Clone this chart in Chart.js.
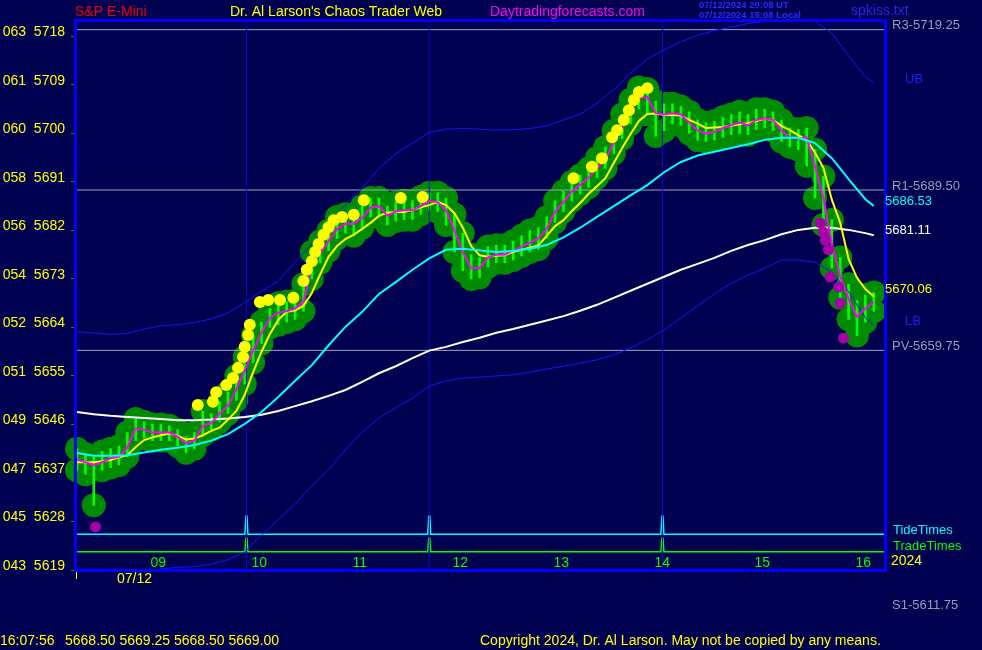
<!DOCTYPE html>
<html lang="en">
<head>
<meta charset="UTF-8">
<title>S&amp;P E-Mini</title>
<style>
    html, body { margin: 0; padding: 0; background: #000050; }
    canvas { display: block; }
</style>
</head>
<body>
<canvas id="chart" width="982" height="650"></canvas>

<script src="https://cdn.jsdelivr.net/npm/chart.js"></script>
<script>
    // 5 minute bars, 07/12 session
    const barTimes = [
        '08:18', '08:23', '08:28', '08:33', '08:38', '08:43', '08:48', '08:53', '08:58', '09:03',
        '09:08', '09:13', '09:18', '09:23', '09:28', '09:33', '09:38', '09:43', '09:48', '09:53',
        '09:58', '10:03', '10:08', '10:13', '10:18', '10:23', '10:28', '10:33', '10:38', '10:43',
        '10:48', '10:53', '10:58', '11:03', '11:08', '11:13', '11:18', '11:23', '11:28', '11:33',
        '11:38', '11:43', '11:48', '11:53', '11:58', '12:03', '12:08', '12:13', '12:18', '12:23',
        '12:28', '12:33', '12:38', '12:43', '12:48', '12:53', '12:58', '13:03', '13:08', '13:13',
        '13:18', '13:23', '13:28', '13:33', '13:38', '13:43', '13:48', '13:53', '13:58', '14:03',
        '14:08', '14:13', '14:18', '14:23', '14:28', '14:33', '14:38', '14:43', '14:48', '14:53',
        '14:58', '15:03', '15:08', '15:13', '15:18', '15:23', '15:28', '15:33', '15:38', '15:43',
        '15:48', '15:53', '15:58', '16:03', '16:08', '16:13'
    ];
    const highs = [
        5641.5, 5640.5, 5640.0, 5641.0, 5641.5, 5642.0, 5644.5, 5647.0, 5646.5, 5646.0,
        5646.0, 5645.75, 5645.0, 5643.75, 5644.5, 5648.5, 5648.0, 5650.25, 5652.0, 5655.0,
        5658.5, 5662.5, 5665.0, 5667.5, 5668.5, 5668.75, 5669.0, 5672.0, 5678.0, 5680.0,
        5682.0, 5684.5, 5685.0, 5685.0, 5686.5, 5688.0, 5688.0, 5686.5, 5687.25, 5687.5,
        5687.5, 5688.25, 5689.0, 5689.0, 5688.0, 5685.0, 5681.5, 5677.5, 5677.0, 5679.0,
        5679.25, 5679.25, 5680.0, 5681.0, 5682.0, 5682.5, 5684.5, 5687.5, 5689.25, 5691.0,
        5692.25, 5693.5, 5695.5, 5697.5, 5700.5, 5703.5, 5706.25, 5708.5, 5708.25, 5706.0,
        5705.5, 5705.5, 5705.0, 5704.0, 5702.5, 5702.0, 5702.25, 5703.0, 5703.5, 5704.0,
        5703.5, 5704.5, 5704.5, 5704.0, 5702.5, 5701.0, 5700.75, 5701.0, 5697.0, 5692.0,
        5684.0, 5677.0, 5672.0, 5669.0, 5670.0, 5670.5
    ];
    const lows = [
        5637.5, 5636.75, 5631.0, 5637.5, 5638.0, 5638.5, 5640.0, 5643.0, 5643.5, 5643.0,
        5643.0, 5643.0, 5642.0, 5640.75, 5641.5, 5644.0, 5645.0, 5646.5, 5648.0, 5650.5,
        5653.5, 5657.5, 5661.0, 5664.0, 5664.5, 5665.0, 5665.5, 5667.0, 5673.0, 5676.0,
        5678.25, 5680.5, 5681.5, 5681.0, 5682.5, 5684.5, 5684.5, 5683.0, 5683.75, 5684.0,
        5684.0, 5685.0, 5685.75, 5685.5, 5683.0, 5678.0, 5674.5, 5673.0, 5673.25, 5675.25,
        5676.0, 5676.0, 5676.5, 5677.25, 5678.0, 5678.5, 5680.5, 5683.5, 5685.5, 5687.5,
        5688.75, 5690.0, 5691.75, 5693.5, 5696.25, 5699.0, 5701.75, 5704.5, 5703.5, 5699.5,
        5700.5, 5701.75, 5701.5, 5700.0, 5698.75, 5698.5, 5698.75, 5699.25, 5699.75, 5700.0,
        5699.75, 5700.75, 5701.0, 5700.5, 5698.5, 5697.5, 5697.0, 5694.0, 5688.0, 5683.0,
        5675.0, 5669.5, 5665.5, 5662.5, 5665.0, 5667.0
    ];
    // fast average (magenta)
    const fastLine = [
        5639.5, 5639.0, 5638.5, 5639.0, 5639.75, 5640.0, 5641.75, 5645.25, 5645.0, 5644.5,
        5644.5, 5644.5, 5643.75, 5642.5, 5643.0, 5645.75, 5646.25, 5648.0, 5649.5, 5652.5,
        5656.0, 5659.75, 5663.0, 5665.75, 5666.75, 5667.0, 5667.5, 5668.75, 5675.5, 5677.75,
        5680.0, 5682.25, 5683.25, 5683.25, 5684.25, 5686.25, 5686.5, 5684.75, 5685.5, 5685.75,
        5685.75, 5686.5, 5687.5, 5687.25, 5685.75, 5682.0, 5678.0, 5675.0, 5675.0, 5677.0,
        5677.5, 5677.5, 5678.25, 5679.0, 5679.75, 5680.5, 5682.25, 5685.5, 5687.25, 5689.25,
        5690.5, 5691.75, 5693.5, 5695.25, 5698.25, 5701.0, 5703.75, 5706.5, 5706.75, 5703.75,
        5703.5, 5703.75, 5703.5, 5702.0, 5700.5, 5700.0, 5700.25, 5701.0, 5701.5, 5702.0,
        5701.5, 5702.5, 5702.75, 5702.5, 5700.5, 5699.25, 5699.0, 5699.25, 5693.75, 5688.0,
        5679.5, 5673.5, 5669.25, 5666.0, 5667.5, 5668.75
    ];
    // slower average (yellow)
    const midLine = [
        5639.0, 5639.0, 5639.0, 5639.2, 5639.4, 5639.9, 5640.3, 5641.8, 5643.1, 5643.6,
        5644.0, 5644.3, 5643.9, 5643.2, 5643.4, 5644.0, 5644.8, 5645.4, 5646.9, 5648.5,
        5651.5, 5655.7, 5659.5, 5662.8, 5665.4, 5666.9, 5667.2, 5668.0, 5670.4, 5673.9,
        5677.1, 5679.1, 5680.4, 5681.2, 5682.3, 5683.4, 5684.7, 5685.3, 5685.4, 5685.4,
        5685.8, 5686.3, 5686.7, 5687.3, 5686.7, 5685.2, 5682.5, 5679.1, 5677.4, 5677.1,
        5677.3, 5677.4, 5678.0, 5678.4, 5678.8, 5679.2, 5681.0, 5682.8, 5683.9, 5685.6,
        5687.1, 5688.8, 5690.2, 5691.7, 5694.5, 5697.3, 5699.9, 5702.3, 5703.6, 5703.7,
        5703.4, 5703.4, 5703.3, 5702.5, 5701.8, 5701.0, 5701.1, 5701.2, 5701.4, 5701.7,
        5701.9, 5702.3, 5702.7, 5702.5, 5701.4, 5700.6, 5699.7, 5698.8, 5696.4, 5693.6,
        5687.7, 5683.4, 5676.7, 5673.2, 5671.1, 5669.8
    ];

    // 10 minute samples of the slow curves
    const slowTimes = [
        '08:18', '08:28', '08:38', '08:48', '08:58', '09:08', '09:18', '09:28', '09:38', '09:48',
        '09:58', '10:08', '10:18', '10:28', '10:38', '10:48', '10:58', '11:08', '11:18', '11:28',
        '11:38', '11:48', '11:58', '12:08', '12:18', '12:28', '12:38', '12:48', '12:58', '13:08',
        '13:18', '13:28', '13:38', '13:48', '13:58', '14:08', '14:18', '14:28', '14:38', '14:48',
        '14:58', '15:08', '15:18', '15:28', '15:38', '15:48', '15:58', '16:08', '16:13'
    ];
    const cyanLine = [
        5640.7, 5640.2, 5640.2, 5640.3, 5640.8, 5641.3, 5641.7, 5642.2, 5643.0, 5644.2,
        5646.1, 5648.3, 5651.1, 5654.1, 5657.0, 5660.7, 5664.1, 5666.9, 5670.2, 5672.4,
        5674.7, 5676.8, 5678.4, 5678.6, 5678.3, 5678.0, 5678.2, 5678.6, 5679.3, 5680.7,
        5682.5, 5684.5, 5686.5, 5688.5, 5690.4, 5692.8, 5694.7, 5695.9, 5696.6, 5697.3,
        5698.0, 5698.8, 5699.2, 5699.2, 5698.2, 5695.4, 5691.5, 5687.8, 5686.53
    ];
    const whiteLine = [
        5648.3, 5647.9, 5647.6, 5647.4, 5647.2, 5647.0, 5646.8, 5646.8, 5646.9, 5647.1,
        5647.4, 5647.8, 5648.5, 5649.4, 5650.3, 5651.3, 5652.4, 5653.9, 5655.5, 5656.8,
        5658.3, 5659.7, 5660.4, 5661.3, 5662.1, 5663.0, 5663.7, 5664.5, 5665.3, 5666.1,
        5667.1, 5668.2, 5669.5, 5670.8, 5672.1, 5673.4, 5674.7, 5675.8, 5676.9, 5678.2,
        5679.3, 5680.2, 5681.3, 5682.1, 5682.5, 5682.5, 5682.1, 5681.5, 5681.11
    ];
    const upperBand = [
        5663.2, 5663.0, 5662.7, 5662.9, 5663.7, 5664.3, 5664.5, 5664.9, 5665.6, 5666.7,
        5668.6, 5670.7, 5672.6, 5676.1, 5679.5, 5683.0, 5686.7, 5689.9, 5693.5, 5696.2,
        5698.2, 5700.2, 5700.8, 5700.9, 5700.8, 5700.6, 5700.7, 5700.9, 5701.4, 5702.5,
        5703.6, 5705.6, 5708.1, 5711.2, 5713.8, 5715.5, 5717.0, 5718.2, 5719.1, 5719.7,
        5720.4, 5720.8, 5720.9, 5721.0, 5720.8, 5718.6, 5714.4, 5710.5, 5709.4
    ];
    const lowerBand = [
        5615.3, 5616.2, 5617.1, 5617.9, 5618.6, 5619.2, 5619.5, 5619.6, 5620.1, 5620.9,
        5622.3, 5625.5, 5628.3, 5631.2, 5634.6, 5637.6, 5641.3, 5644.6, 5647.2, 5649.1,
        5650.9, 5653.1, 5654.1, 5654.6, 5654.8, 5655.0, 5655.2, 5655.7, 5656.3, 5656.8,
        5657.4, 5658.0, 5658.9, 5660.2, 5661.7, 5663.5, 5665.8, 5668.0, 5670.2, 5672.2,
        5673.7, 5675.0, 5676.5, 5676.5, 5676.1, 5674.3, 5670.6, 5665.8, 5664.3
    ];

    const upDotTimes = [
        '09:30', '09:39', '09:41', '09:47', '09:51', '09:54', '09:57', '09:58', '10:00', '10:01',
        '10:07', '10:12', '10:19', '10:27', '10:33', '10:35', '10:38', '10:40', '10:42', '10:45',
        '10:48', '10:51', '10:56', '11:03', '11:09', '11:31', '11:44', '13:14', '13:25', '13:31',
        '13:37', '13:40', '13:44', '13:47', '13:50', '13:53', '13:58'
    ];
    const upDotPrices = [
        5649.6, 5650.2, 5652.0, 5653.3, 5654.6, 5656.5, 5658.5, 5660.4, 5662.6, 5664.5,
        5668.7, 5669.1, 5669.1, 5669.5, 5672.6, 5674.7, 5676.3, 5678.0, 5679.5, 5681.2,
        5682.6, 5683.9, 5684.5, 5684.9, 5687.6, 5688.0, 5688.2, 5691.7, 5693.8, 5695.4,
        5699.3, 5700.6, 5702.5, 5704.3, 5706.2, 5707.7, 5708.4
    ];
    const downDotTimes = ['08:29', '15:41', '15:43', '15:44', '15:46', '15:47', '15:52', '15:53', '15:55'];
    const downDotPrices = [5627.0, 5683.4, 5681.7, 5680.2, 5678.4, 5673.4, 5671.5, 5668.5, 5662.0];

    const levels = [
        {name: 'R3', value: 5719.25},
        {name: 'R1', value: 5689.50},
        {name: 'PV', value: 5659.75},
        {name: 'S1', value: 5611.75}
    ];
    const tideTimes = ['09:59', '11:48', '14:07'];
    const tradeTimes = ['09:59', '11:48', '14:07'];

    const yTickVals = [5619, 5628, 5637, 5646, 5655, 5664, 5673, 5682, 5691, 5700, 5709, 5718];
    const yTickPrefix = ['043', '045', '047', '049', '051', '052', '054', '056', '058', '060', '061', '063'];
    const hourTimes = ['09:00', '10:00', '11:00', '12:00', '13:00', '14:00', '15:00', '16:00'];
    const hourLabels = ['09', '10', '11', '12', '13', '14', '15', '16'];
    const lastQuote = {time: '16:07:56', ohlc: [5668.50, 5669.25, 5668.50, 5669.00]};

    const xMin = 496.8, xMax = 979.7;
    const yMin = 5619, yMax = 5721.04;
    const FONT = '"Liberation Sans", Arial, sans-serif';
    const BG = '#000050';

    const toMin = s => { const [h, m] = s.split(':').map(Number); return h * 60 + m; };
    const pts = (times, vals) => times.map((t, i) => ({x: toMin(t), y: vals[i]}));

    function spikes(times, base, peak, startHigh) {
        const out = [];
        if (startHigh) {
            out.push({x: xMin, y: peak});
            out.push({x: xMin + 0.8, y: base});
        } else {
            out.push({x: xMin, y: base});
        }
        for (const t of times) {
            const m = toMin(t);
            out.push({x: m - 0.9, y: base}, {x: m - 0.3, y: peak}, {x: m + 0.3, y: peak}, {x: m + 0.9, y: base});
        }
        out.push({x: xMax, y: base});
        return out;
    }

    function lineSet(data, color, order, width = 2, extra = {}) {
        return Object.assign({type: 'line', data, borderColor: color, borderWidth: width,
            pointRadius: 0, tension: 0, fill: false, order}, extra);
    }

    const datasets = [
        // green blob round the price
        {type: 'line', data: pts(barTimes, highs).concat(pts(barTimes, lows)), showLine: false,
            pointRadius: 12, pointBackgroundColor: '#008c00', pointBorderWidth: 0, clip: false, order: 10},
        {type: 'bar', data: barTimes.map((t, i) => ({x: toMin(t), y: [lows[i], highs[i]]})),
            backgroundColor: '#00ff00', barThickness: 2, order: 9},
        ...levels.map(l => lineSet([{x: xMin, y: l.value}, {x: xMax, y: l.value}], '#a4a4bc', 8, 1)),
        ...tideTimes.map(t => lineSet([{x: toMin(t), y: yMin}, {x: toMin(t), y: yMax}], '#0a0ad0', 7, 1)),
        lineSet(spikes(tideTimes, 6.5, 9.8, true), '#00ffff', 7, 1.5, {yAxisID: 'sig'}),
        lineSet(spikes(tradeTimes, 3.3, 5.8, false), '#00ff00', 7, 1.5, {yAxisID: 'sig'}),
        lineSet(pts(slowTimes, upperBand), '#1414ff', 6, 1),
        lineSet(pts(slowTimes, lowerBand), '#1414ff', 6, 1),
        lineSet(pts(slowTimes, whiteLine), '#ffffff', 5),
        lineSet(pts(barTimes, midLine), '#ffff00', 4),
        lineSet(pts(barTimes, fastLine), '#ff00ff', 3),
        lineSet(pts(slowTimes, cyanLine), '#00ffff', 2),
        {type: 'line', data: pts(upDotTimes, upDotPrices), showLine: false, pointRadius: 6,
            pointBackgroundColor: '#ffff00', pointBorderWidth: 0, order: 1},
        {type: 'line', data: pts(downDotTimes, downDotPrices), showLine: false, pointRadius: 5.5,
            pointBackgroundColor: '#a800a8', pointBorderWidth: 0, order: 0}
    ];

    function txt(ctx, s, x, y, color, size = 14, align = 'left', weight = '') {
        ctx.font = `${weight} ${size}px ${FONT}`;
        ctx.fillStyle = color;
        ctx.textAlign = align;
        ctx.textBaseline = 'middle';
        ctx.fillText(s, x, y);
    }

    const decor = {
        id: 'decor',
        beforeDraw(chart) {
            const ctx = chart.ctx;
            ctx.save();
            ctx.fillStyle = BG;
            ctx.fillRect(0, 0, chart.width, chart.height);
            ctx.restore();
        },
        afterDraw(chart) {
            const {ctx, chartArea: a, scales: {x, y, sig}} = chart;
            ctx.save();

            // frame
            ctx.strokeStyle = '#0000ff';
            ctx.lineWidth = 3;
            ctx.strokeRect(a.left + 0.5, a.top + 0.5, a.right - a.left, a.bottom - a.top);

            // hour marks
            hourTimes.forEach((h, i) => {
                const px = Math.round(x.getPixelForValue(toMin(h))) + 0.5;
                ctx.strokeStyle = '#000000';
                ctx.lineWidth = 1;
                ctx.beginPath();
                ctx.moveTo(px, a.bottom + 2);
                ctx.lineTo(px, a.bottom + 10);
                ctx.stroke();
                txt(ctx, hourLabels[i], px + 3, a.bottom - 7, '#00ff00', 14);
            });
            ctx.strokeStyle = '#ffff00';
            ctx.beginPath();
            ctx.moveTo(a.left + 1.5, a.bottom + 2);
            ctx.lineTo(a.left + 1.5, a.bottom + 9);
            ctx.stroke();
            txt(ctx, '07/12', a.left + 42, a.bottom + 9, '#ffff00', 14);

            // header
            txt(ctx, 'S&P E-Mini', 75, 12.5, '#f00000', 14);
            txt(ctx, "Dr. Al Larson's Chaos Trader Web", 230, 12.5, '#ffff00', 14);
            txt(ctx, 'Daytradingforecasts.com', 490, 12.5, '#ff00ff', 14);
            txt(ctx, '07/12/2024 20:08 UT', 699, 5.5, '#2a2aff', 9.5, 'left', 'bold');
            txt(ctx, '07/12/2024 15:08 Local', 699, 15.5, '#2a2aff', 9.5, 'left', 'bold');
            txt(ctx, 'spkiss.txt', 851, 11.5, '#2626e6', 14);

            // right side labels
            const rx = a.right;
            levels.forEach(l => {
                txt(ctx, `${l.name}-${l.value.toFixed(2)}`, rx + 7, y.getPixelForValue(l.value) - 4, '#9a9ab4', 13);
            });
            txt(ctx, 'UB', rx + 20, y.getPixelForValue(upperBand[upperBand.length - 1]) - 3, '#2020ee', 13);
            txt(ctx, 'LB', rx + 20, y.getPixelForValue(lowerBand[lowerBand.length - 1]) - 4, '#2020ee', 13);
            const cEnd = cyanLine[cyanLine.length - 1];
            const wEnd = whiteLine[whiteLine.length - 1];
            const yEnd = 5670.06;
            txt(ctx, cEnd.toFixed(2), rx, y.getPixelForValue(cEnd) - 5, '#00ffff', 13);
            txt(ctx, wEnd.toFixed(2), rx, y.getPixelForValue(wEnd) - 5, '#ffffff', 13);
            txt(ctx, yEnd.toFixed(2), rx, y.getPixelForValue(yEnd) - 5, '#ffff00', 13);
            txt(ctx, 'TideTimes', rx + 8, sig.getPixelForValue(6.5) - 4, '#00ffff', 13);
            txt(ctx, 'TradeTimes', rx + 8, sig.getPixelForValue(3.3) - 5, '#00ff00', 13);
            txt(ctx, '2024', rx + 6, a.bottom - 9, '#ffff00', 14);

            // footer
            txt(ctx, lastQuote.time, 0, 641, '#ffff00', 14);
            txt(ctx, lastQuote.ohlc.map(v => v.toFixed(2)).join(' '), 65, 641, '#ffff00', 14);
            txt(ctx, 'Copyright 2024, Dr. Al Larson. May not be copied by any means.', 480, 641, '#ffff00', 14);
            ctx.restore();
        }
    };

    new Chart(document.getElementById('chart'), {
        type: 'line',
        data: {datasets},
        options: {
            responsive: false,
            animation: false,
            events: [],
            layout: {padding: {left: 0, top: 20, right: 97, bottom: 80}},
            plugins: {legend: {display: false}, tooltip: {enabled: false}},
            scales: {
                x: {type: 'linear', min: xMin, max: xMax, display: false, offset: false},
                y: {
                    type: 'linear', min: yMin, max: yMax, position: 'left',
                    afterFit: s => { s.width = 75; },
                    afterBuildTicks: s => { s.ticks = yTickVals.map(v => ({value: v})); },
                    ticks: {
                        color: '#ffff00', font: {family: FONT, size: 14}, padding: 6, labelOffset: -4,
                        autoSkip: false,
                        callback: v => `${yTickPrefix[yTickVals.indexOf(v)]}  ${v}`
                    },
                    grid: {drawOnChartArea: false, color: '#00a000', tickLength: 4},
                    border: {display: false}
                },
                sig: {type: 'linear', min: 0, max: 100, display: false}
            }
        },
        plugins: [decor]
    });
</script>
</body>
</html>
